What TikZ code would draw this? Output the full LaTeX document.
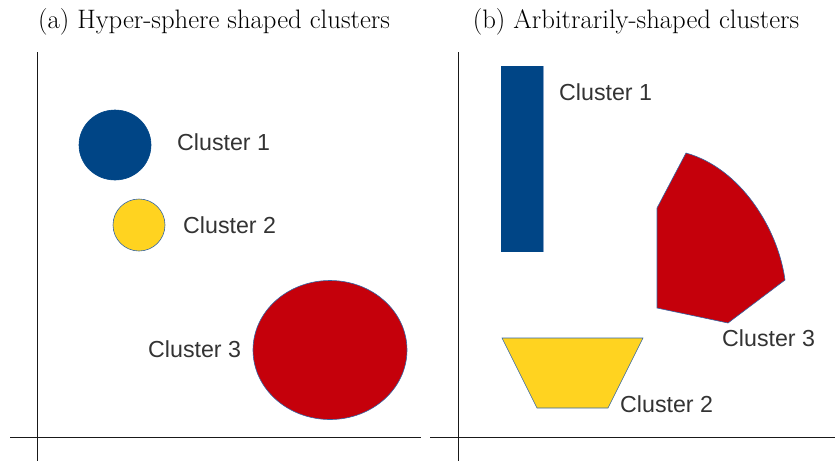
\documentclass[tikz,border=0pt]{standalone}
\usepackage{fontspec}
\newfontfamily\lsans{Liberation Sans}
\definecolor{cblue}{HTML}{004586}
\definecolor{cyellow}{HTML}{FFD320}
\definecolor{cred}{HTML}{C5000B}
\definecolor{cedge}{HTML}{3465A4}
\definecolor{ctext}{HTML}{333333}
\begin{document}
\begin{tikzpicture}[x=1pt,y=-1pt,
  title/.style={anchor=base,inner sep=0pt,font=\fontsize{26.7}{30}\selectfont},
  clabel/.style={anchor=west,inner sep=0pt,text=ctext,font=\lsans\fontsize{23.2}{27}\selectfont},
  axis/.style={line width=0.9pt,black!90},
  blob/.style={draw=cedge,line width=0.6pt}]
\useasboundingbox (0,0) rectangle (835,461);
% titles
\node[title] (ta) at (214,28) {(a) Hyper-sphere shaped clusters};
\node[title] (tb) at (636,28) {(b) Arbitrarily-shaped clusters};
% axes
\coordinate (ay0) at (37,52); \coordinate (ay1) at (37,461);
\coordinate (ax0) at (10,437); \coordinate (ax1) at (421,437);
\coordinate (by0) at (458,52); \coordinate (by1) at (458,461);
\coordinate (bx0) at (430,437); \coordinate (bx1) at (835,437);
\draw[axis] (ay0) -- (ay1);
\draw[axis] (ax0) -- (ax1);
\draw[axis] (by0) -- (by1);
\draw[axis] (bx0) -- (bx1);
% panel (a)
\draw[blob,fill=cblue,draw=cblue] (115,145) circle[x radius=36,y radius=35];
\node[clabel] (a1) at (177,142) {Cluster 1};
\draw[blob,fill=cyellow] (139,225) circle[radius=26];
\node[clabel] (a2) at (183,225) {Cluster 2};
\draw[blob,fill=cred] (330,350) ellipse[x radius=77,y radius=69.5];
\node[clabel] (a3) at (148,349) {Cluster 3};
% panel (b)
\fill[cblue] (501,66) rectangle (544,252);
\draw[cedge!60!white,line width=1pt] (543.5,66) -- (543.5,252);
\node[clabel] (b1) at (559,92) {Cluster 1};
\draw[blob,fill=cred] (686,153) .. controls (740,168) and (778,228) .. (785,280)
  -- (728,323) -- (657,308) -- (657,208) -- cycle;
\node[clabel] (b3) at (722,338) {Cluster 3};
\draw[blob,fill=cyellow] (502,338) -- (643,338) -- (608,408) -- (537,408) -- cycle;
\node[clabel] (b2) at (620,404) {Cluster 2};
\end{tikzpicture}
\end{document}
